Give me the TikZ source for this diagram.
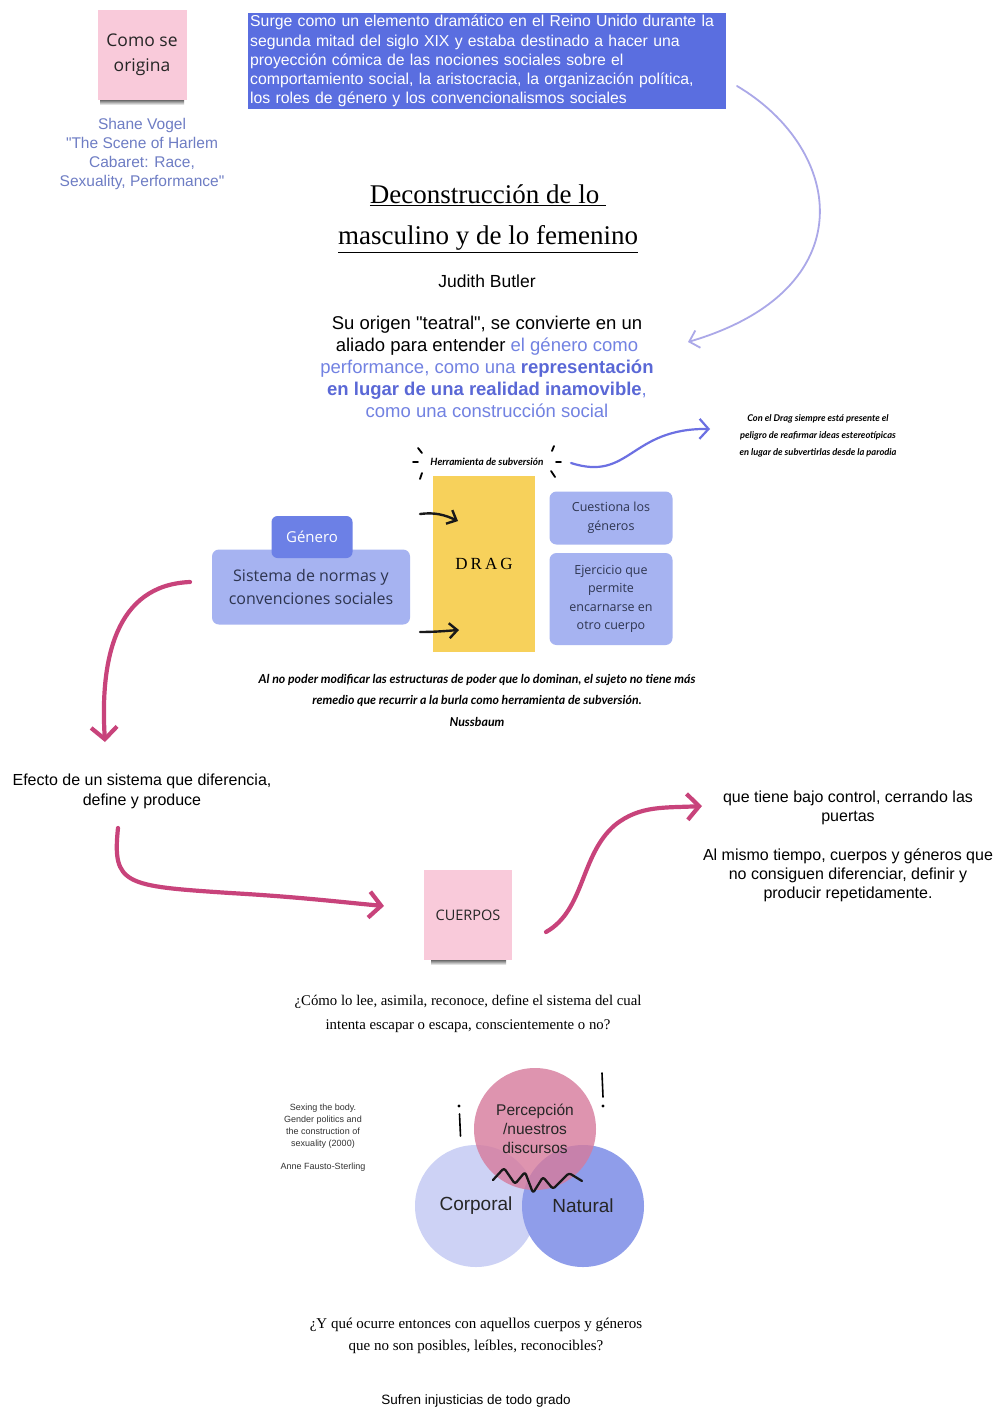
\documentclass[tikz,border=0pt]{standalone}
\usepackage{fontspec}
\setmainfont{Liberation Serif}
\newfontfamily\arialf{Liberation Sans}
\newfontfamily\opensf{Open Sans}
\newfontfamily\handf{Lato}
\usetikzlibrary{arrows.meta}

\definecolor{notepink}{HTML}{F9CADA}
\definecolor{surgeblue}{HTML}{5A6EE0}
\definecolor{citeblue}{HTML}{6E7DC4}
\definecolor{arrowlav}{HTML}{ABA8E8}
\definecolor{paraBlue}{HTML}{7282E2}
\definecolor{paraBold}{HTML}{5A68D6}
\definecolor{wavyblue}{HTML}{6C70E2}
\definecolor{dragyellow}{HTML}{F7D15B}
\definecolor{generoblue}{HTML}{6C80E6}
\definecolor{boxlav}{HTML}{A6B3F1}
\definecolor{boxtext}{HTML}{2E3550}
\definecolor{rasp}{HTML}{C8437B}
\definecolor{venncorp}{HTML}{CDD2F5}
\definecolor{vennnat}{HTML}{8F9DEA}
\definecolor{vennper}{HTML}{D67A9C}

\tikzset{
  arialfont/.style 2 args={font=\arialf\fontsize{#1}{#2}\selectfont},
  openfont/.style 2 args={font=\opensf\fontsize{#1}{#2}\selectfont},
  seriffont/.style 2 args={font=\fontsize{#1}{#2}\selectfont},
  handfont/.style 2 args={font=\handf\bfseries\itshape\fontsize{#1}{#2}\selectfont},
  sticky/.style={rectangle, fill=notepink, minimum width=89, minimum height=90, align=center, text=black!85},
  lavbox/.style={rectangle, rounded corners=7, fill=boxlav, align=center, text=boxtext},
  pinkarrow/.style={draw=rasp, line width=4.2, line cap=round, -{Straight Barb[length=12pt, width=26pt]}},
  lavarrow/.style={draw=arrowlav, line width=1.8, line cap=round, -{Straight Barb[length=9pt, width=18pt]}},
  wavyarrow/.style={draw=wavyblue, line width=2.2, line cap=round, -{Straight Barb[length=9pt, width=20pt]}},
  inkarrow/.style={draw=black!90, line width=2.4, line cap=round, -{Straight Barb[length=8pt, width=15pt]}},
  inkmark/.style={draw=black, line width=1.8, line cap=round},
  noteshadow/.style={top color=black!70, bottom color=white},
}

\begin{document}
\begin{tikzpicture}[x=1pt, y=-1pt, every node/.style={inner sep=0pt}]
\useasboundingbox[fill=white] (0,0) rectangle (998,1410);

% ---------- top left: sticky note and reference ----------
\shade[noteshadow] (100,99) rectangle (184,105);
\node[sticky, openfont={17.5}{25}] (origen) at (142,55) {Como se\\origina};
\node[arialfont={15.5}{19.2}, text=citeblue, align=center] (vogel) at (142,154)
  {Shane Vogel\\"The Scene of Harlem\\Cabaret: Race,\\Sexuality, Performance"};

% ---------- top: historical box ----------
\node[anchor=north west, fill=surgeblue, text=white, text width=474pt, inner xsep=2pt, inner ysep=2pt,
      align=left, arialfont={15.8}{19.25}] (surge) at (248,13)
  {Surge como un elemento dramático en el Reino Unido durante la\\
   segunda mitad del siglo XIX y estaba destinado a hacer una\\
   proyección cómica de las nociones sociales sobre el\\
   comportamiento social, la aristocracia, la organización política,\\
   los roles de género y los convencionalismos sociales};

% ---------- title block ----------
\node[seriffont={27}{41}, align=center] (title) at (488,219)
  {\underline{Deconstrucción de lo }\\\underline{masculino y de lo femenino}};
\node[arialfont={17.5}{21}] (butler) at (487,281) {Judith Butler};

\node[arialfont={18.5}{22}, align=center] (para) at (487,367)
  {Su origen "teatral", se convierte en un\\
   aliado para entender \textcolor{paraBlue}{el género como}\\
   \textcolor{paraBlue}{performance, como una \textcolor{paraBold}{\textbf{representación}}}\\
   \textcolor{paraBold}{\textbf{en lugar de una realidad inamovible}}\textcolor{paraBlue}{,}\\
   \textcolor{paraBlue}{como una construcción social}};

\coordinate (lavstart) at (737,86);
\coordinate (lavend) at (688,342);
\draw[lavarrow] (lavstart) .. controls (845,150) and (865,290) .. (lavend);

% ---------- drag section ----------
\node[handfont={10}{12}] (tool) at (487,462) {Herramienta de subversión};
\draw[inkmark] (418,448) -- (422,453);
\draw[inkmark] (413,462) -- (418,462);
\draw[inkmark] (422,473) -- (420,479);
\draw[inkmark] (552,451) -- (554,446);
\draw[inkmark] (556,462) -- (561,462);
\draw[inkmark] (551,471) -- (555,477);

\node[handfont={9.3}{17.2}, align=center] (dragnote) at (818,436)
  {Con el Drag siempre está presente el\\peligro de reafirmar ideas estereotípicas\\en lugar de subvertirlas desde la parodia};
\coordinate (wavestart) at (571,463);
\coordinate (waveend) at (710,429);
\draw[wavyarrow] (wavestart) .. controls (630,482) and (630,428) .. (waveend);

\node[rectangle, fill=dragyellow, minimum width=102, minimum height=176,
      seriffont={17}{20}] (drag) at (484,564) {\addfontfeature{LetterSpace=18}DRAG};

\coordinate (ink1a) at (420,514);
\coordinate (ink1b) at (458,521);
\coordinate (ink2a) at (420,632);
\coordinate (ink2b) at (459,630);
\draw[inkarrow] (ink1a) .. controls (435,512) and (445,515) .. (ink1b);
\draw[inkarrow] (ink2a) .. controls (435,632) and (445,631) .. (ink2b);

\node[lavbox, minimum width=198, minimum height=75] (sistema) at (311,587) {};
\node[openfont={16}{22.5}, align=center, text=boxtext] (sistematext) at (311,587)
  {Sistema de normas y\\convenciones sociales};
\node[rectangle, rounded corners=6, fill=generoblue, text=white, minimum width=81, minimum height=42,
      openfont={15}{18}] (genero) at (312,537) {Género};

\node[lavbox, minimum width=123, minimum height=53, openfont={12.5}{19}] (cuestiona) at (611,518)
  {Cuestiona los\\géneros};
\node[lavbox, minimum width=123, minimum height=92, openfont={12.5}{18.5}] (ejercicio) at (611,599)
  {Ejercicio que\\permite\\encarnarse en\\otro cuerpo};

\node[handfont={12.3}{21.5}, align=center] (quote) at (477,700)
  {Al no poder modificar las estructuras de poder que lo dominan, el sujeto no tiene más\\
   remedio que recurrir a la burla como herramienta de subversión.\\Nussbaum};

% ---------- bodies ----------
\node[arialfont={16}{20}, align=center] (efecto) at (142,791)
  {Efecto de un sistema que diferencia,\\define y produce};

\coordinate (pk1a) at (190,582);
\coordinate (pk1b) at (105,742);
\draw[pinkarrow] (pk1a) .. controls (115,585) and (100,660) .. (pk1b);

\shade[noteshadow] (431,959) rectangle (506,965);
\node[sticky, minimum width=88, minimum height=90, openfont={14.5}{17}] (cuerpos) at (468,915) {CUERPOS};

\coordinate (pk2a) at (118,828);
\coordinate (pk2b) at (384,906);
\draw[pinkarrow] (pk2a) .. controls (112,885) and (125,886) .. (230,893) .. controls (300,897) and (340,902) .. (pk2b);

\coordinate (pk3a) at (546,932);
\coordinate (pk3b) at (702,806);
\draw[pinkarrow] (pk3a) .. controls (585,910) and (580,855) .. (615,825) .. controls (640,805) and (665,808) .. (pk3b);

\node[arialfont={16}{19}, align=center] (control) at (848,808)
  {que tiene bajo control, cerrando las\\puertas};
\node[arialfont={16}{19}, align=center] (mismo) at (848,875)
  {Al mismo tiempo, cuerpos y géneros que\\no consiguen diferenciar, definir y\\producir repetidamente.};

\node[seriffont={14.8}{24}, align=center] (q1) at (468,1014)
  {¿Cómo lo lee, asimila, reconoce, define el sistema del cual\\intenta escapar o escapa, conscientemente o no?};

% ---------- three spheres ----------
\node[arialfont={9}{11.8}, align=center, text=black!80] (sexing) at (323,1126)
  {Sexing the body.\\Gender politics and\\the construction of\\sexuality (2000)};
\node[arialfont={9}{11}, text=black!80] (anne) at (323,1167) {Anne Fausto-Sterling};

\node[circle, minimum size=122, fill=venncorp, arialfont={19}{22}, text=black!85] (corporal) at (476,1206) {Corporal};
\node[circle, minimum size=122, fill=vennnat, arialfont={19}{22}, text=black!85] (natural) at (583,1206) {Natural};
\node[circle, minimum size=122, fill=vennper, fill opacity=0.8, text opacity=1, arialfont={15.5}{19},
      align=center, text=black!85] (percep) at (535,1129) {Percepción\\/nuestros\\discursos};

\draw[draw=black!90, line width=2.3, line cap=round, line join=round, rounded corners=2.5]
  (493,1180) -- (504,1168) -- (515,1184) -- (525,1172) -- (533,1193) -- (543,1177)
  -- (553,1189) -- (569,1173) -- (582,1181);
\fill[black] (459,1106) circle (1.6);
\draw[inkmark, line width=1.6] (459.5,1114) -- (460.5,1136);
\draw[inkmark, line width=1.6] (602,1073) -- (603,1097);
\fill[black] (603,1106) circle (1.6);

\node[seriffont={15}{22.5}, align=center] (q2) at (476,1336)
  {¿Y qué ocurre entonces con aquellos cuerpos y géneros\\que no son posibles, leíbles, reconocibles?};
\node[arialfont={13.5}{16}] (sufren) at (476,1401) {Sufren injusticias de todo grado};
\end{tikzpicture}
\end{document}
